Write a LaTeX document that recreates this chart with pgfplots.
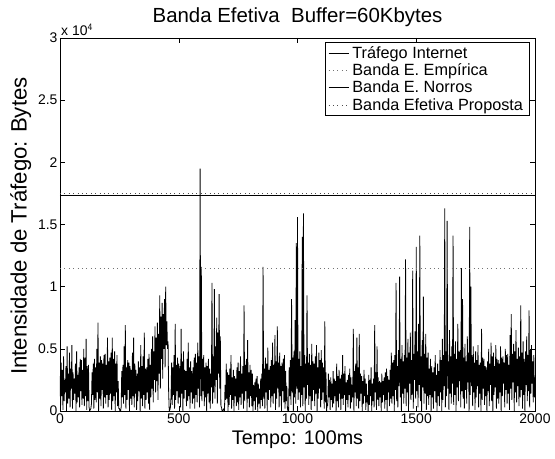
\documentclass[border=0pt]{standalone}
\usepackage{pgfplots}
\pgfplotsset{compat=1.18}
\usepackage{fontspec}
\setmainfont{Liberation Sans}

\begin{document}
\begin{tikzpicture}
\path (-60bp,-48bp) rectangle (495bp,411bp);
\begin{axis}[
    at={(0,0)}, anchor=south west,
    scale only axis,
    width=475bp, height=373bp,
    xmin=0, xmax=2000, ymin=0, ymax=30000,
    xtick={0,500,1000,1500,2000},
    xticklabels={0,500,1000,1500,2000},
    ytick={0,5000,10000,15000,20000,25000,30000},
    yticklabels={0,0.5,1,1.5,2,2.5,3},
    scaled y ticks=false,
    tick align=inside,
    major tick length=5bp,
    tick style={black, line width=0.5pt},
    axis line style={line width=0.5pt},
    ticklabel style={font=\fontsize{14}{16}\selectfont},
    xticklabel style={yshift=1bp},
    yticklabel style={xshift=1bp},
    xlabel={Tempo: 100ms},
    ylabel={Intensidade de Tráfego: Bytes},
    xlabel style={font=\fontsize{19.8}{22}\selectfont},
    ylabel style={font=\fontsize{22.3}{24}\selectfont, at={(ticklabel cs:0.485)}, xshift=4bp},
    title={Banda Efetiva\ \ Buffer=60Kbytes},
    title style={font=\fontsize{20.5}{23}\selectfont, yshift=2bp},
    legend style={at={(rel axis cs:0.989,0.988)}, anchor=north east,
        font=\fontsize{16.3}{18.3}\selectfont, draw=black, line width=0.5pt,
        row sep=0bp, inner xsep=3bp, inner ysep=1.5bp,
        nodes={inner xsep=3.5bp}},
    legend cell align=left,
    legend image code/.code={\draw[#1, line width=0.5pt] (0bp,0bp) -- (20bp,0bp);},
]
\addplot[black, line width=0.8pt, line join=bevel] coordinates {
(0,2800)(2.5,400)(5,3900)(7.5,1200)(10,3300)(12.5,100)(15,4400)(17.5,800)(20,2500)(22.5,1500)(25,3600)(27.5,0)(30,5200)(32.5,600)(35,3000)(37.5,1000)(40,4700)(42.5,300)(45,3400)(47.5,1800)
(50,5300)(52.5,200)(55,3100)(57.5,900)(60,2600)(62.5,1400)(65,3800)(67.5,0)(70,4800)(72.5,700)(75,2900)(77.5,1100)(80,3500)(82.5,300)(85,4200)(87.5,1600)(90,4100)(92.5,500)(95,3300)(97.5,1000)
(100,5000)(102.5,400)(105,4300)(107.5,1200)(110,5800)(112.5,100)(115,3600)(117.5,800)(120,3700)(122.5,300)(125,0)(127.5,100)(130,200)(132.5,600)(135,3100)(137.5,1300)(140,3800)(142.5,200)(145,4200)(147.5,900)
(150,3500)(152.5,700)(155,5000)(157.5,1500)(160,7100)(162.5,0)(165,3900)(167.5,1000)(170,4400)(172.5,400)(175,4100)(177.5,1700)(180,3800)(182.5,200)(185,4500)(187.5,1100)(190,4600)(192.5,600)(195,3700)(197.5,1300)
(200,5900)(202.5,300)(205,4000)(207.5,900)(210,4300)(212.5,1400)(215,4700)(217.5,100)(220,5900)(222.5,800)(225,4200)(227.5,1200)(230,4800)(232.5,0)(235,3800)(237.5,1500)(240,4500)(242.5,400)(245,2400)(247.5,200)
(250,200)(252.5,0)(255,0)(257.5,300)(260,3200)(262.5,1100)(265,3700)(267.5,600)(270,5200)(272.5,1300)(275,6900)(277.5,200)(280,3500)(282.5,900)(285,4100)(287.5,1700)(290,3900)(292.5,0)(295,3600)(297.5,1000)
(300,3300)(302.5,500)(305,4700)(307.5,1200)(310,5900)(312.5,300)(315,3800)(317.5,1400)(320,3300)(322.5,100)(325,3000)(327.5,800)(330,4000)(332.5,1600)(335,3500)(337.5,0)(340,5300)(342.5,1000)(345,3600)(347.5,400)
(350,4400)(352.5,1300)(355,6300)(357.5,200)(360,3400)(362.5,900)(365,3500)(367.5,1500)(370,4200)(372.5,600)(375,4600)(377.5,100)(380,3700)(382.5,1100)(385,5000)(387.5,1800)(390,6000)(392.5,700)(395,4800)(397.5,2500)
(400,6800)(402.5,1500)(405,5900)(407.5,2400)(410,7100)(412.5,900)(415,6200)(417.5,3000)(420,9300)(422.5,1800)(425,7600)(427.5,4200)(430,8700)(432.5,2600)(435,7800)(437.5,5000)(440,9000)(442.5,3500)(445,10000)(447.5,5300)
(450,7200)(452.5,5000)(455,5600)(457.5,1500)(460,0)(462.5,100)(465,300)(467.5,1200)(470,3900)(472.5,500)(475,3500)(477.5,1300)(480,4500)(482.5,200)(485,7000)(487.5,900)(490,3700)(492.5,1600)(495,4300)(497.5,600)
(500,3800)(502.5,1100)(505,3600)(507.5,300)(510,6600)(512.5,1400)(515,4000)(517.5,0)(520,4800)(522.5,1000)(525,3300)(527.5,1700)(530,3200)(532.5,400)(535,4200)(537.5,800)(540,5500)(542.5,1200)(545,3500)(547.5,200)
(550,4000)(552.5,1500)(555,3200)(557.5,600)(560,3500)(562.5,1000)(565,4300)(567.5,200)(570,4600)(572.5,1300)(575,3900)(577.5,700)(580,5500)(582.5,1800)(585,4400)(587.5,300)(590,19500)(592.5,1200)(595,11600)(597.5,800)
(600,4200)(602.5,1600)(605,4500)(607.5,400)(610,3500)(612.5,1100)(615,3900)(617.5,0)(620,3600)(622.5,1400)(625,4200)(627.5,700)(630,3400)(632.5,200)(635,3000)(637.5,1900)(640,10300)(642.5,600)(645,4400)(647.5,1500)
(650,9800)(652.5,1000)(655,5200)(657.5,2500)(660,7500)(662.5,600)(665,6300)(667.5,3000)(670,9400)(672.5,1800)(675,6000)(677.5,400)(680,300)(682.5,0)(685,0)(687.5,100)(690,200)(692.5,0)(695,2100)(697.5,900)
(700,3800)(702.5,1000)(705,3100)(707.5,0)(710,2900)(712.5,500)(715,3400)(717.5,1300)(720,4500)(722.5,200)(725,2700)(727.5,900)(730,3300)(732.5,0)(735,2800)(737.5,1200)(740,2600)(742.5,400)(745,3500)(747.5,700)
(750,3900)(752.5,100)(755,3200)(757.5,1100)(760,4400)(762.5,500)(765,3000)(767.5,1400)(770,3600)(772.5,200)(775,8500)(777.5,800)(780,3700)(782.5,1600)(785,4200)(787.5,0)(790,5700)(792.5,1000)(795,3100)(797.5,300)
(800,3700)(802.5,1200)(805,3300)(807.5,400)(810,3000)(812.5,0)(815,2100)(817.5,800)(820,2300)(822.5,100)(825,2600)(827.5,1100)(830,2800)(832.5,0)(835,2200)(837.5,600)(840,1800)(842.5,200)(845,2600)(847.5,900)
(850,3000)(852.5,400)(855,11600)(857.5,1000)(860,3400)(862.5,200)(865,4300)(867.5,1500)(870,3800)(872.5,0)(875,5100)(877.5,900)(880,3300)(882.5,1700)(885,3600)(887.5,300)(890,4100)(892.5,1200)(895,5500)(897.5,600)
(900,3700)(902.5,1400)(905,6100)(907.5,100)(910,4000)(912.5,1000)(915,6800)(917.5,1800)(920,3900)(922.5,300)(925,4700)(927.5,1200)(930,3600)(932.5,0)(935,3900)(937.5,1600)(940,4200)(942.5,700)(945,4500)(947.5,200)
(950,3200)(952.5,800)(955,2000)(957.5,200)(960,0)(962.5,0)(965,3500)(967.5,1200)(970,4100)(972.5,500)(975,9000)(977.5,1500)(980,4300)(982.5,0)(985,4800)(987.5,1100)(990,7300)(992.5,600)(995,13500)(997.5,1800)
(1000,15600)(1002.5,900)(1005,4200)(1007.5,1500)(1010,4800)(1012.5,300)(1015,3600)(1017.5,1300)(1020,14000)(1022.5,400)(1025,15900)(1027.5,1900)(1030,4500)(1032.5,0)(1035,3800)(1037.5,1000)(1040,9300)(1042.5,2100)(1045,3900)(1047.5,500)
(1050,4600)(1052.5,1200)(1055,3700)(1057.5,100)(1060,5400)(1062.5,800)(1065,4000)(1067.5,1700)(1070,3800)(1072.5,400)(1075,4400)(1077.5,1400)(1080,5300)(1082.5,0)(1085,3500)(1087.5,1000)(1090,4700)(1092.5,1800)(1095,4100)(1097.5,300)
(1100,4900)(1102.5,900)(1105,3900)(1107.5,1500)(1110,3500)(1112.5,200)(1115,7200)(1117.5,700)(1120,3100)(1122.5,0)(1125,600)(1127.5,400)(1130,3000)(1132.5,1100)(1135,2500)(1137.5,100)(1140,2700)(1142.5,900)(1145,2200)(1147.5,300)
(1150,3200)(1152.5,600)(1155,2600)(1157.5,1200)(1160,2400)(1162.5,0)(1165,3800)(1167.5,800)(1170,2800)(1172.5,300)(1175,3300)(1177.5,1400)(1180,2600)(1182.5,100)(1185,2900)(1187.5,1000)(1190,4500)(1192.5,500)(1195,3000)(1197.5,1300)
(1200,3600)(1202.5,0)(1205,2300)(1207.5,900)(1210,2500)(1212.5,300)(1215,2900)(1217.5,1300)(1220,3400)(1222.5,200)(1225,2700)(1227.5,700)(1230,2100)(1232.5,1100)(1235,6600)(1237.5,0)(1240,3200)(1242.5,1500)(1245,3800)(1247.5,400)
(1250,5900)(1252.5,1000)(1255,3500)(1257.5,200)(1260,6200)(1262.5,800)(1265,3000)(1267.5,1400)(1270,2800)(1272.5,0)(1275,2400)(1277.5,600)(1280,3300)(1282.5,1200)(1285,2600)(1287.5,100)(1290,2200)(1292.5,700)(1295,1300)(1297.5,0)
(1300,2900)(1302.5,500)(1305,2500)(1307.5,1200)(1310,3500)(1312.5,0)(1315,2200)(1317.5,800)(1320,2600)(1322.5,300)(1325,6900)(1327.5,1500)(1330,3100)(1332.5,100)(1335,5200)(1337.5,900)(1340,2700)(1342.5,400)(1345,2400)(1347.5,1100)
(1350,2300)(1352.5,0)(1355,3000)(1357.5,700)(1360,2400)(1362.5,1300)(1365,2700)(1367.5,200)(1370,3100)(1372.5,900)(1375,3400)(1377.5,0)(1380,2800)(1382.5,1500)(1385,2500)(1387.5,400)(1390,3300)(1392.5,1000)(1395,4700)(1397.5,600)
(1400,3900)(1402.5,1200)(1405,4100)(1407.5,0)(1410,4500)(1412.5,1700)(1415,10300)(1417.5,800)(1420,3600)(1422.5,300)(1425,4900)(1427.5,2000)(1430,10800)(1432.5,1100)(1435,4200)(1437.5,0)(1440,5300)(1442.5,1400)(1445,4000)(1447.5,600)
(1450,4500)(1452.5,1800)(1455,12200)(1457.5,400)(1460,4300)(1462.5,1500)(1465,5800)(1467.5,0)(1470,4700)(1472.5,2200)(1475,6300)(1477.5,900)(1480,4100)(1482.5,1300)(1485,11300)(1487.5,200)(1490,4600)(1492.5,2500)(1495,6400)(1497.5,1000)
(1500,13200)(1502.5,1600)(1505,4800)(1507.5,300)(1510,7000)(1512.5,2100)(1515,14100)(1517.5,800)(1520,4400)(1522.5,0)(1525,5700)(1527.5,1900)(1530,9200)(1532.5,600)(1535,4600)(1537.5,1400)(1540,6200)(1542.5,100)(1545,4300)(1547.5,1200)
(1550,4700)(1552.5,500)(1555,3400)(1557.5,1300)(1560,4200)(1562.5,0)(1565,3600)(1567.5,1100)(1570,3100)(1572.5,200)(1575,3500)(1577.5,1600)(1580,4500)(1582.5,700)(1585,2900)(1587.5,0)(1590,3800)(1592.5,1200)(1595,3200)(1597.5,400)
(1600,4900)(1602.5,1500)(1605,4100)(1607.5,0)(1610,5800)(1612.5,900)(1615,4500)(1617.5,2000)(1620,16300)(1622.5,300)(1625,4800)(1627.5,1200)(1630,15300)(1632.5,1800)(1635,4000)(1637.5,100)(1640,6500)(1642.5,1400)(1645,4400)(1647.5,600)
(1650,5200)(1652.5,2200)(1655,14100)(1657.5,500)(1660,4600)(1662.5,1300)(1665,5600)(1667.5,0)(1670,4200)(1672.5,1900)(1675,7000)(1677.5,800)(1680,4800)(1682.5,2400)(1685,4900)(1687.5,300)(1690,11500)(1692.5,1600)(1695,9000)(1697.5,1000)
(1700,4300)(1702.5,200)(1705,5400)(1707.5,1700)(1710,4000)(1712.5,600)(1715,6000)(1717.5,2300)(1720,4700)(1722.5,0)(1725,14800)(1727.5,1300)(1730,10000)(1732.5,2000)(1735,4500)(1737.5,400)(1740,5200)(1742.5,1500)(1745,3900)(1747.5,100)
(1750,4800)(1752.5,1100)(1755,4100)(1757.5,2000)(1760,5300)(1762.5,300)(1765,3700)(1767.5,1400)(1770,3900)(1772.5,0)(1775,6600)(1777.5,900)(1780,4300)(1782.5,1800)(1785,4200)(1787.5,500)(1790,3600)(1792.5,1200)(1795,3500)(1797.5,0)
(1800,4000)(1802.5,1600)(1805,5000)(1807.5,400)(1810,3800)(1812.5,2100)(1815,5500)(1817.5,800)(1820,4400)(1822.5,0)(1825,4700)(1827.5,1300)(1830,3600)(1832.5,1900)(1835,5300)(1837.5,200)(1840,4200)(1842.5,1000)(1845,4100)(1847.5,600)
(1850,3800)(1852.5,1500)(1855,5200)(1857.5,0)(1860,4300)(1862.5,1200)(1865,4400)(1867.5,2200)(1870,3900)(1872.5,300)(1875,5000)(1877.5,1700)(1880,4500)(1882.5,600)(1885,4600)(1887.5,1400)(1890,3700)(1892.5,100)(1895,6100)(1897.5,1800)
(1900,7800)(1902.5,900)(1905,4600)(1907.5,2300)(1910,5400)(1912.5,0)(1915,4800)(1917.5,1500)(1920,6500)(1922.5,700)(1925,4200)(1927.5,2000)(1930,5100)(1932.5,400)(1935,4400)(1937.5,1100)(1940,8500)(1942.5,1700)(1945,4700)(1947.5,200)
(1950,5600)(1952.5,1300)(1955,4200)(1957.5,0)(1960,4800)(1962.5,2100)(1965,6000)(1967.5,800)(1970,4500)(1972.5,1600)(1975,8100)(1977.5,300)(1980,4900)(1982.5,1400)(1985,5300)(1987.5,2200)(1990,4000)(1992.5,700)(1995,4500)(1997.5,1100)(2000,2700)
};
\addlegendentry{Tráfego Internet}
\addplot[black!55, line width=0.6pt, dash pattern=on 0.8bp off 3.6bp] coordinates {(0,11480) (2000,11480)};
\addlegendentry{Banda E. Empírica}
\addplot[black, line width=0.5pt] coordinates {(0,17380) (2000,17380)};
\addlegendentry{Banda E. Norros}
\addplot[black!70, line width=0.6pt, dash pattern=on 0.8bp off 3.6bp] coordinates {(0,17520) (2000,17520)};
\addlegendentry{Banda Efetiva Proposta}
\end{axis}
\node[anchor=south west, inner sep=0pt, font=\fontsize{14}{16}\selectfont] at (1bp,375bp) {x 10$^{\mathsf{4}}$};
\end{tikzpicture}
\end{document}
